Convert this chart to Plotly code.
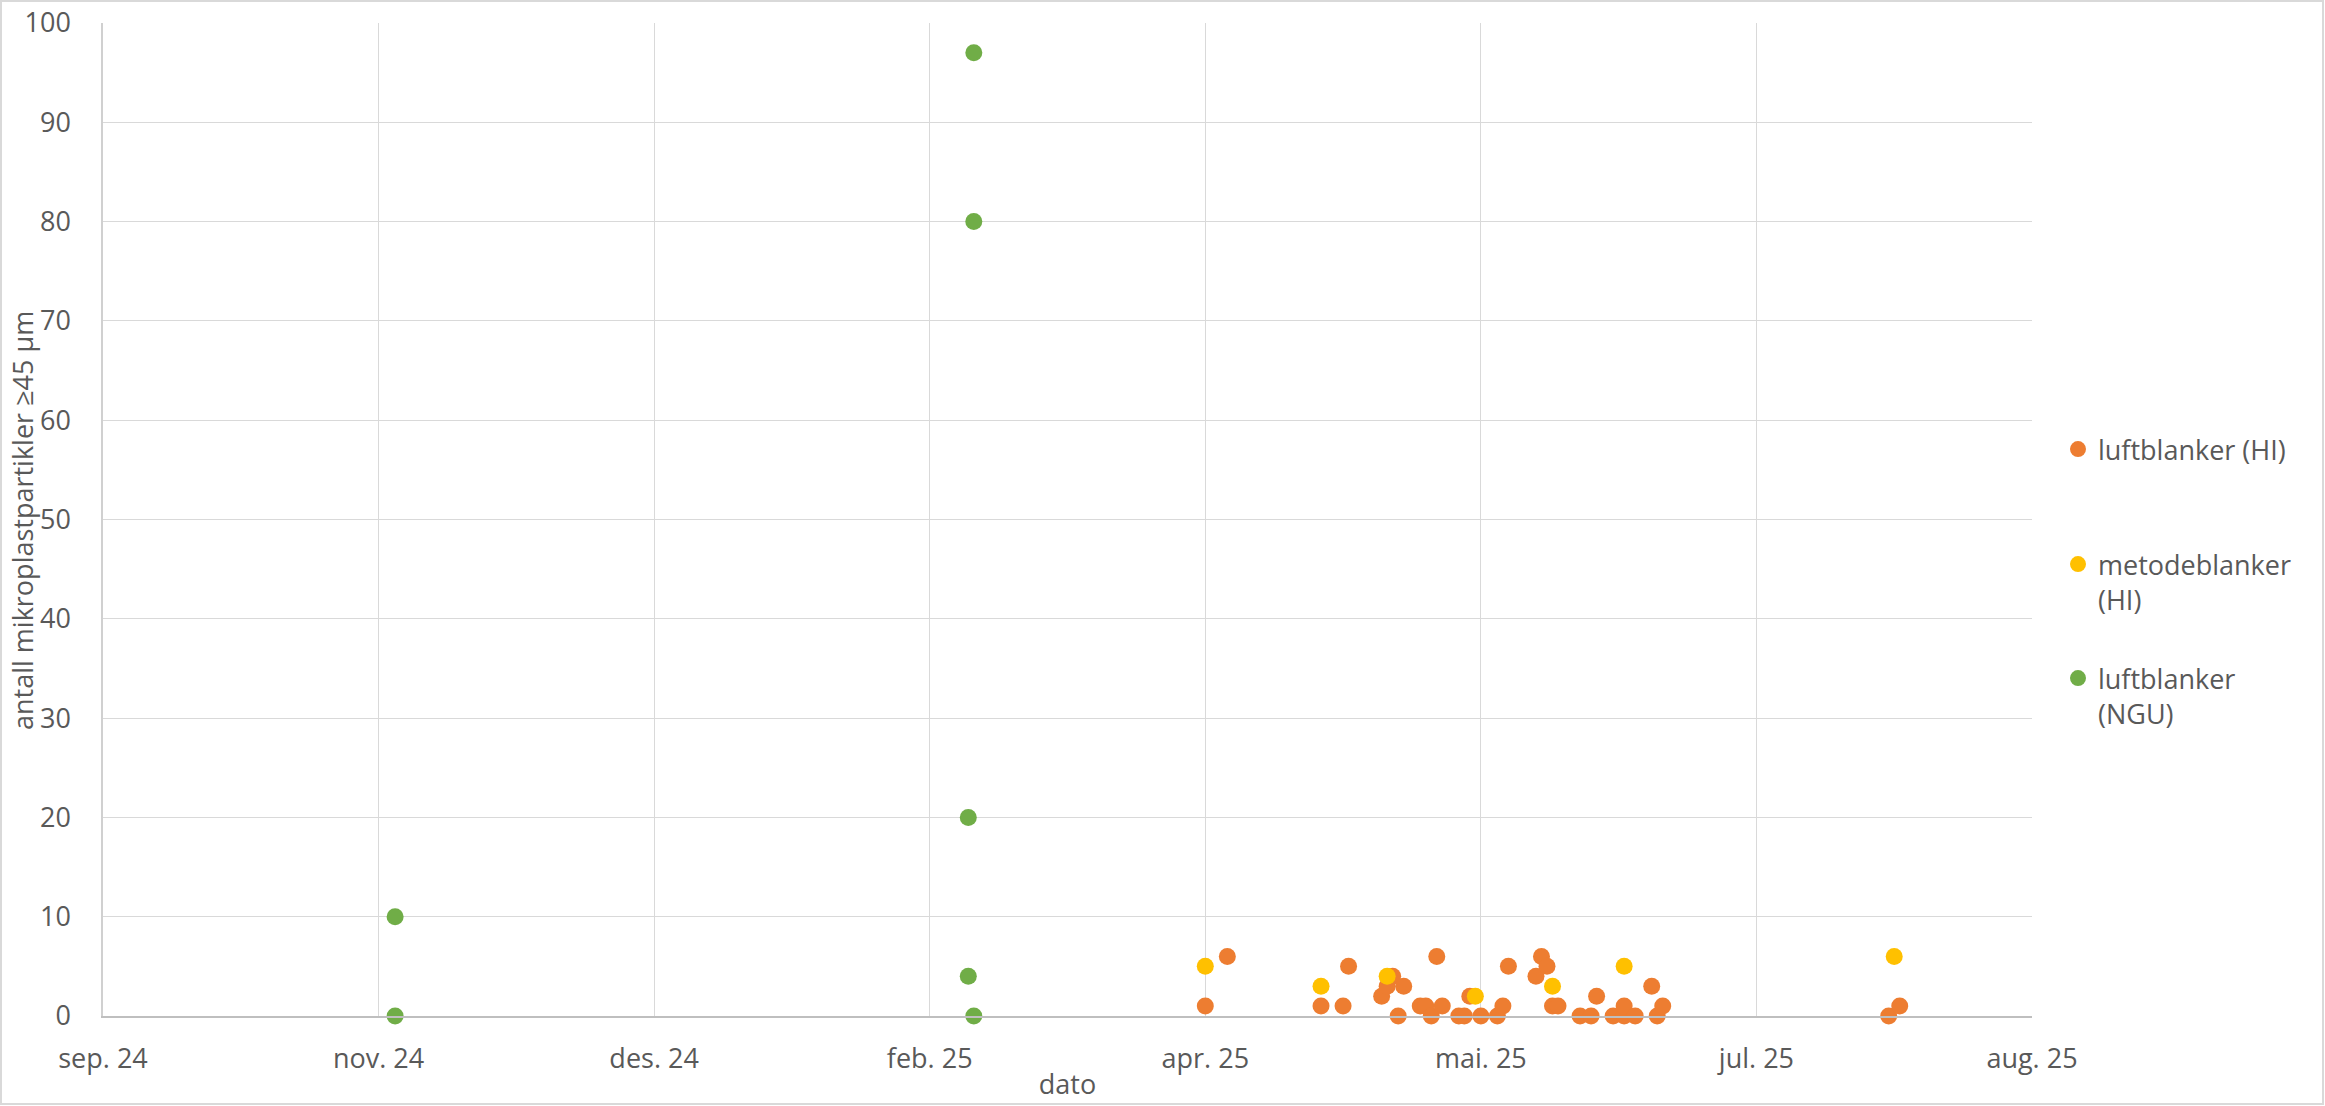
import plotly.graph_objects as go

# ---- data ----
hi_air_dates = [
    "2025-04-03", "2025-04-07", "2025-04-24", "2025-04-28", "2025-04-29",
    "2025-05-05", "2025-05-06", "2025-05-07", "2025-05-08", "2025-05-09",
    "2025-05-12", "2025-05-13", "2025-05-14", "2025-05-15", "2025-05-16",
    "2025-05-19", "2025-05-20", "2025-05-21", "2025-05-23", "2025-05-26",
    "2025-05-27", "2025-05-28", "2025-06-02", "2025-06-03", "2025-06-04",
    "2025-06-05", "2025-06-06", "2025-06-10", "2025-06-12", "2025-06-13",
    "2025-06-16", "2025-06-18", "2025-06-18", "2025-06-20", "2025-06-23",
    "2025-06-24", "2025-06-25", "2025-08-05", "2025-08-07",
]
hi_air_values = [
    1, 6, 1, 1, 5,
    2, 3, 4, 0, 3,
    1, 1, 0, 6, 1,
    0, 0, 2, 0, 0,
    1, 5, 4, 6, 5,
    1, 1, 0, 0, 2,
    0, 0, 1, 0, 3,
    0, 1, 0, 1,
]

hi_method_dates = ["2025-04-03", "2025-04-24", "2025-05-06", "2025-05-22",
                   "2025-06-05", "2025-06-18", "2025-08-06"]
hi_method_values = [5, 3, 4, 2, 3, 5, 6]

ngu_air_dates = ["2024-11-07", "2024-11-07", "2025-02-19", "2025-02-19",
                 "2025-02-20", "2025-02-20", "2025-02-20"]
ngu_air_values = [10, 0, 20, 4, 97, 80, 0]

series_names = ["luftblanker (HI)", "metodeblanker<br>(HI)", "luftblanker<br>(NGU)"]
series_colors = ["#ED7D31", "#FFC000", "#70AD47"]

x_tick_vals = ["2024-09-15", "2024-11-04", "2024-12-24", "2025-02-12",
               "2025-04-03", "2025-05-23", "2025-07-12", "2025-08-31"]
x_tick_text = ["sep. 24", "nov. 24", "des. 24", "feb. 25",
               "apr. 25", "mai. 25", "jul. 25", "aug. 25"]
x_range = ["2024-09-15", "2025-08-31"]
y_range = [0, 100]

x_title = "dato"
y_title = "antall mikroplastpartikler ≥45 µm"

# ---- figure ----
W, H = 2325, 1106
ML, MR, MT, MB = 103, 293, 23, 90
FONT = "'Open Sans', sans-serif"
FS = 27
TXT = "#595959"
pw = W - ML - MR
ph = H - MT - MB


def px_x(px):
    return (px - ML) / pw


def px_y(py):
    return (H - MB - py) / ph


legend_keys = ["legend", "legend2", "legend3"]
legend_tops = [425, 540, 654]

fig = go.Figure()
all_series = [
    (hi_air_dates, hi_air_values),
    (hi_method_dates, hi_method_values),
    (ngu_air_dates, ngu_air_values),
]
for (xs, ys), name, col, lg in zip(all_series, series_names, series_colors, legend_keys):
    fig.add_trace(go.Scatter(
        x=xs, y=ys, mode="markers", name=name, legend=lg,
        cliponaxis=False,
        marker=dict(color=col, size=17, line=dict(width=0)),
    ))

legend_common = dict(
    x=px_x(2058), xanchor="left", yanchor="top",
    font=dict(family=FONT, size=FS, color=TXT),
    valign="top", bgcolor="rgba(0,0,0,0)", borderwidth=0,
)

fig.update_layout(
    width=W, height=H,
    margin=dict(l=ML, r=MR, t=MT, b=MB, autoexpand=False),
    paper_bgcolor="white", plot_bgcolor="white",
    font=dict(family=FONT, size=FS, color=TXT),
    showlegend=True,
    legend=dict(legend_common, y=px_y(legend_tops[0])),
    legend2=dict(legend_common, y=px_y(legend_tops[1])),
    legend3=dict(legend_common, y=px_y(legend_tops[2])),
    xaxis=dict(
        type="date", range=x_range,
        tickmode="array", tickvals=x_tick_vals, ticktext=x_tick_text,
        showgrid=True, gridcolor="#D9D9D9", gridwidth=1.3,
        showline=True, linecolor="#BFBFBF", linewidth=2,
        zeroline=False, ticks="", ticklabelstandoff=18,
        tickfont=dict(family=FONT, size=FS, color=TXT),
        title=dict(text=x_title, standoff=0, font=dict(family=FONT, size=FS, color=TXT)),
        automargin=False,
    ),
    yaxis=dict(
        range=y_range, dtick=10, tick0=0,
        showgrid=True, gridcolor="#D9D9D9", gridwidth=1.3,
        showline=True, linecolor="#D0D0D0", linewidth=1.5,
        zeroline=False, ticks="", ticklabelstandoff=25,
        tickfont=dict(family=FONT, size=FS, color=TXT),
        automargin=False,
    ),
    annotations=[dict(
        text=y_title, textangle=-90, showarrow=False,
        xref="paper", yref="paper", x=px_x(22), y=px_y(521),
        xanchor="center", yanchor="middle",
        font=dict(family=FONT, size=FS, color=TXT),
    )],
)

# chart-area border
fig.add_shape(
    type="rect", xref="paper", yref="paper",
    x0=px_x(1), x1=px_x(W - 2),
    y0=px_y(H - 2), y1=px_y(1),
    line=dict(color="#D9D9D9", width=2), fillcolor="rgba(0,0,0,0)", layer="below",
)

fig.write_html(
    "out.html",
    config={"displayModeBar": False},
    post_script="document.body.style.margin='0';document.body.style.overflow='hidden';",
)
